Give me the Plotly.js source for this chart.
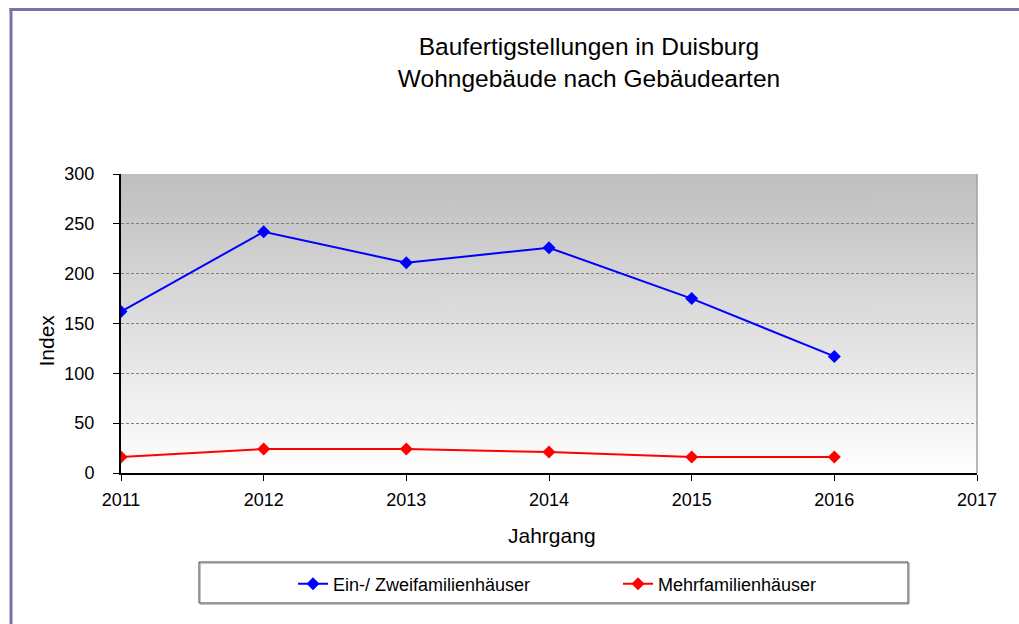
<!DOCTYPE html>
<html>
<head>
<meta charset="utf-8">
<script src="https://cdn.plot.ly/plotly-3.0.1.min.js"></script>
<style>
  html, body { margin: 0; padding: 0; background: #ffffff; }
  #chart { width: 1019px; height: 624px; }
</style>
</head>
<body>
<div id="chart"></div>
<script>
// ---- data ----
const years = [2011, 2012, 2013, 2014, 2015, 2016];
const einZweifamilien = [162, 242, 211, 226, 175, 117];
const mehrfamilien = [16, 24, 24, 21, 16, 16];
const seriesNames = ['Ein-/ Zweifamilienhäuser', 'Mehrfamilienhäuser'];
const titleLines = ['Baufertigstellungen in Duisburg', 'Wohngebäude nach Gebäudearten'];
const xTitle = 'Jahrgang';
const yTitle = 'Index';

// ---- layout geometry ----
const W = 1019, H = 624;
const M = { l: 121, r: 42, t: 174, b: 151 };
const PW = W - M.l - M.r, PH = H - M.t - M.b;
const px2x = p => (p - M.l) / PW;
const py2y = p => (H - M.b - p) / PH;

// vertical gradient for the plot area background
const cv = document.createElement('canvas');
cv.width = 4; cv.height = 300;
const ctx = cv.getContext('2d');
const grad = ctx.createLinearGradient(0, 0, 0, 300);
grad.addColorStop(0, '#bebebe');
grad.addColorStop(1, '#ffffff');
ctx.fillStyle = grad;
ctx.fillRect(0, 0, 4, 300);
const bgURL = cv.toDataURL('image/png');

const FONT = 'Liberation Sans, Arial, sans-serif';

const traces = [
  {
    x: years, y: einZweifamilien, name: seriesNames[0],
    type: 'scatter', mode: 'lines+markers',
    line: { color: '#0000ff', width: 2 },
    marker: { symbol: 'diamond', size: 10, color: '#0000ff' },
    legend: 'legend'
  },
  {
    x: years, y: mehrfamilien, name: seriesNames[1],
    type: 'scatter', mode: 'lines+markers',
    line: { color: '#ff0000', width: 2 },
    marker: { symbol: 'diamond', size: 10, color: '#ff0000' },
    legend: 'legend2'
  }
];

const frameColor = '#7474a8';
const legendFont = { family: FONT, size: 18, color: '#000000' };

const layout = {
  width: W, height: H,
  margin: M,
  paper_bgcolor: '#ffffff',
  plot_bgcolor: 'rgba(0,0,0,0)',
  font: { family: FONT, size: 18, color: '#000000' },
  title: {
    text: titleLines.join('<br>'),
    font: { family: FONT, size: 24.5, color: '#000000' },
    x: 589 / W, xref: 'container', xanchor: 'center',
    y: 1 - 55 / H, yref: 'container', yanchor: 'top'
  },
  xaxis: {
    range: [2011, 2017],
    tick0: 2011, dtick: 1,
    showgrid: false, zeroline: false,
    showline: true, linecolor: '#000000', linewidth: 2,
    ticks: 'outside', ticklen: 6, tickwidth: 1, tickcolor: '#000000',
    tickfont: { family: FONT, size: 18, color: '#000000' },
    ticklabelstandoff: 3,
    fixedrange: true
  },
  yaxis: {
    range: [0, 300],
    tick0: 0, dtick: 50,
    showgrid: true, gridcolor: '#808080', gridwidth: 1, griddash: '3px,2px',
    zeroline: false,
    showline: true, linecolor: '#000000', linewidth: 2,
    ticks: 'outside', ticklen: 6, tickwidth: 1, tickcolor: '#000000',
    tickfont: { family: FONT, size: 18, color: '#000000' },
    ticklabelstandoff: 15,
    fixedrange: true
  },
  showlegend: true,
  legend: {
    orientation: 'h',
    x: px2x(293), xanchor: 'left',
    y: py2y(584), yanchor: 'middle',
    bgcolor: 'rgba(0,0,0,0)', borderwidth: 0,
    font: legendFont
  },
  legend2: {
    orientation: 'h',
    x: px2x(618), xanchor: 'left',
    y: py2y(584), yanchor: 'middle',
    bgcolor: 'rgba(0,0,0,0)', borderwidth: 0,
    font: legendFont
  },
  images: [{
    source: bgURL, xref: 'paper', yref: 'paper',
    x: 0, y: 1, sizex: 1, sizey: 1,
    xanchor: 'left', yanchor: 'top',
    sizing: 'stretch', layer: 'below'
  }],
  annotations: [
    {
      text: xTitle, showarrow: false,
      xref: 'paper', yref: 'paper',
      x: px2x(552), y: py2y(535), xanchor: 'center', yanchor: 'middle',
      font: { family: FONT, size: 21, color: '#000000' }
    },
    {
      text: yTitle, showarrow: false, textangle: -90,
      xref: 'paper', yref: 'paper',
      x: px2x(45.5), y: py2y(341), xanchor: 'center', yanchor: 'middle',
      font: { family: FONT, size: 21, color: '#000000' }
    }
  ],
  shapes: [
    // right border of plot area
    { type: 'line', xref: 'paper', yref: 'paper', x0: 1, x1: 1, y0: 0, y1: 1,
      line: { color: '#a0a0a0', width: 1.5 } },
    // legend box shadow + box
    { type: 'rect', xref: 'paper', yref: 'paper',
      x0: px2x(200), x1: px2x(909), y0: py2y(604), y1: py2y(563),
      line: { color: '#8a8a8a', width: 1 }, fillcolor: 'rgba(0,0,0,0)' },
    { type: 'rect', xref: 'paper', yref: 'paper',
      x0: px2x(199), x1: px2x(908), y0: py2y(603), y1: py2y(562),
      line: { color: '#404040', width: 1 }, fillcolor: '#ffffff', layer: 'below' },
    // outer frame (top and left)
    { type: 'line', xref: 'paper', yref: 'paper',
      x0: px2x(9.5), x1: px2x(1030), y0: py2y(9.5), y1: py2y(9.5),
      line: { color: frameColor, width: 3 } },
    { type: 'line', xref: 'paper', yref: 'paper',
      x0: px2x(11), x1: px2x(11), y0: py2y(8), y1: py2y(640),
      line: { color: frameColor, width: 3 } }
  ]
};

Plotly.newPlot('chart', traces, layout, { staticPlot: true, displayModeBar: false });
</script>
</body>
</html>
